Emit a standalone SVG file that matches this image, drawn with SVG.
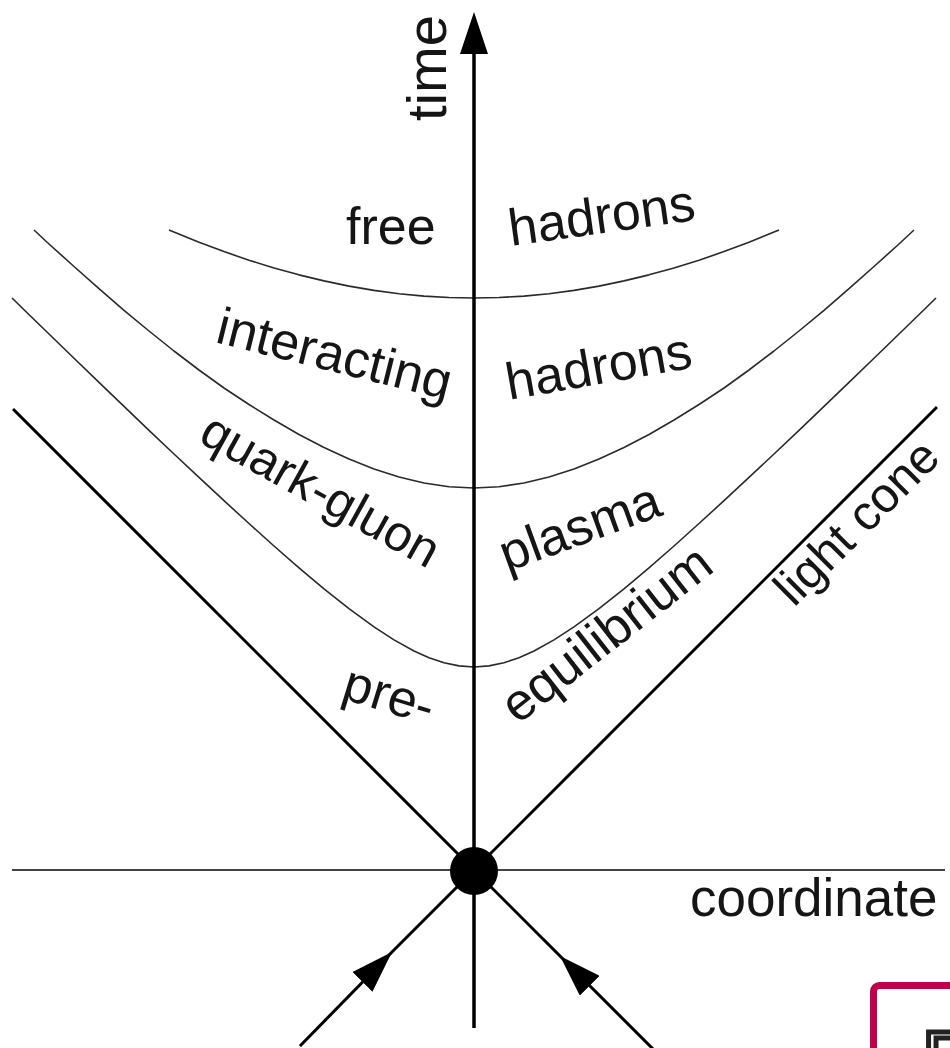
<svg xmlns="http://www.w3.org/2000/svg" width="950" height="1048" viewBox="0 0 950 1048">
<style>
.lbl{font-family:"Liberation Sans",Arial,sans-serif;font-size:52px;fill:#151515}
.curve{fill:none;stroke:#2a2a2a;stroke-width:1.6;stroke-linejoin:round}
.cone{fill:none;stroke:#000;stroke-width:3;stroke-linecap:butt}
.axis{fill:none;stroke:#000;stroke-width:3.5}
.coord{fill:none;stroke:#444;stroke-width:2}
</style>
<defs>
<marker id="arrMid" markerUnits="userSpaceOnUse" viewBox="0 0 42 28" refX="42" refY="14" markerWidth="42" markerHeight="28" orient="auto">
<path d="M0,0 L42,14 L0,28 z" fill="#000"/>
</marker>
<marker id="arrEnd" markerUnits="userSpaceOnUse" viewBox="0 0 42 28" refX="14" refY="14" markerWidth="42" markerHeight="28" orient="auto">
<path d="M0,0 L42,14 L0,28 z" fill="#000"/>
</marker>
</defs>
<rect x="0" y="0" width="950" height="1048" fill="#fff"/>
<g id="connectors">
<path id="curve-free-interacting" class="curve" d="M169,230 L199,242.2 L224,251.6 L249,260.2 L274,267.9 L299,274.85 L324,280.9 L349,286.1 L374,290.35 L399,293.7 L424,296.1 L449,297.5 L474,298 L499,297.5 L524,296.1 L549,293.7 L574,290.35 L599,286.1 L624,280.9 L649,274.85 L674,267.9 L699,260.2 L724,251.6 L749,242.2 L779,230"/>
<path id="curve-interacting-qgp" class="curve" d="M34,230 L49,244 L74,266.5 L99,288.6 L124,310.3 L149,331 L174,351 L199,370 L224,388 L249,404.5 L274,420 L299,434.5 L324,447.5 L349,459 L374,469 L399,477 L424,483 L449,486.7 L474,488 L499,486.7 L524,483 L549,477 L574,469 L599,459 L624,447.5 L649,434.5 L674,420 L699,404.5 L724,388 L749,370 L774,351 L799,331 L824,310.3 L849,288.6 L874,266.5 L899,244 L914,230"/>
<path id="curve-qgp-preeq" class="curve" d="M12,298 L24,309.7 L49,334 L74,358.2 L99,382.4 L124,406.4 L149,430.3 L174,454 L199,477.4 L224,500.7 L249,523.5 L274,546 L299,567.8 L324,588.8 L349,608.6 L374,626.9 L394,639.9 L414,651 L429,657.7 L444,662.8 L459,665.9 L474,667 L489,665.9 L504,662.8 L519,657.7 L534,651 L554,639.9 L574,626.9 L599,608.6 L624,588.8 L649,567.8 L674,546 L699,523.5 L724,500.7 L749,477.4 L774,454 L799,430.3 L824,406.4 L849,382.4 L874,358.2 L899,334 L924,309.7 L936,298"/>
<path id="light-cone-left" class="cone" d="M13,409 L474,870"/>
<path id="light-cone-right" class="cone" d="M474,870 L937,407"/>
<path id="coordinate-axis" class="coord" d="M12,870 L945,870"/>
<path id="time-axis" class="axis" d="M474,1028 L474,40" marker-end="url(#arrEnd)"/>
<path id="incoming-left" class="cone" d="M300,1046 L392,952 L474,870" marker-mid="url(#arrMid)"/>
<path id="incoming-right" class="cone" d="M656,1052 L560,956 L474,870" marker-mid="url(#arrMid)"/>
</g>
<g id="collision-point">
<circle cx="474" cy="871" r="24" fill="#000"/>
</g>
<g id="labels">
<text class="lbl" style="font-size:56px" transform="translate(446,121) rotate(-90)">time</text>
<text class="lbl" x="346" y="244">free</text>
<text class="lbl" transform="translate(511,246) rotate(-8)">hadrons</text>
<text class="lbl" transform="translate(214,342) rotate(14)">interacting</text>
<text class="lbl" transform="translate(509,400) rotate(-10)">hadrons</text>
<text class="lbl" style="font-size:50px" transform="translate(197,441) rotate(29)">quark-gluon</text>
<text class="lbl" transform="translate(507,572) rotate(-20)">plasma</text>
<text class="lbl" transform="translate(340,698) rotate(17)">pre-</text>
<text class="lbl" transform="translate(518,725) rotate(-38)">equilibrium</text>
<text class="lbl" style="font-size:49px" transform="translate(794,608) rotate(-45)">light cone</text>
<text class="lbl" style="font-size:53px" x="690" y="916">coordinate</text>
</g>
<g id="logo">
<rect x="873.5" y="985.5" width="200" height="200" rx="6" fill="#fff" stroke="#c0004c" stroke-width="7"/>
<text x="922" y="1087" style="font-family:'Liberation Sans',Arial,sans-serif;font-size:80px;fill:#fff;stroke:#222;stroke-width:5">E</text>
</g>
</svg>
